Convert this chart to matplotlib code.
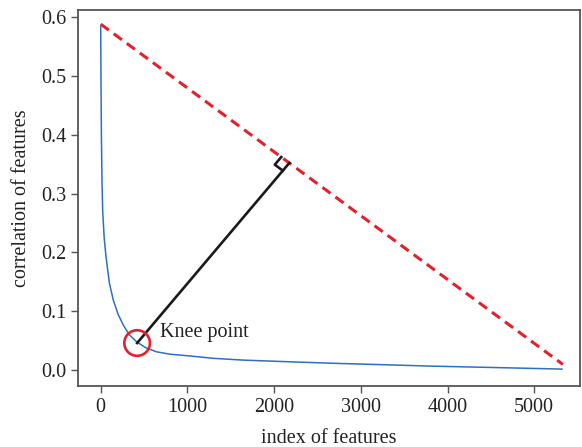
import numpy as np
import matplotlib.pyplot as plt
from matplotlib.lines import Line2D
from matplotlib.transforms import IdentityTransform

# correlation of features sorted
feat_idx = [0, 3, 8, 15, 23, 40, 61, 100, 145, 200, 261, 330, 415, 520, 646,
            800, 1030, 1300, 1641, 2200, 2722, 3300, 3798, 4500, 5320]
feat_corr = [0.584, 0.50, 0.40, 0.32, 0.27, 0.225, 0.193, 0.148, 0.119, 0.095,
             0.0765, 0.060, 0.048, 0.038, 0.031, 0.027, 0.024, 0.020, 0.017,
             0.014, 0.0114, 0.009, 0.0068, 0.0045, 0.0017]

# chord between first and last point
chord_x = [0, 5330]
chord_y = [0.588, 0.0097]

knee_x = 420
knee_y = 0.046
foot_x = 2175

plt.rcParams['font.family'] = ['Liberation Serif', 'DejaVu Serif']
plt.rcParams['font.size'] = 14.5

fig = plt.figure(figsize=(5.82, 4.47), dpi=100)
ax = fig.add_axes([0.134, 0.1365, 0.8626, 0.8411])

ax.plot(feat_idx, feat_corr, color='#2f6ec4', lw=1.1)
ax.plot(chord_x, chord_y, color='#e3202c', lw=2.2, dashes=(3.3, 2.0))

slope = (chord_y[1] - chord_y[0]) / (chord_x[1] - chord_x[0])
foot_y = chord_y[0] + slope * (foot_x - chord_x[0])
ax.plot([knee_x, foot_x], [knee_y, foot_y], color='#1a1a1a', lw=1.9)

ax.scatter([knee_x], [knee_y], s=340, facecolors='none', edgecolors='#e3202c',
           linewidths=1.9, zorder=5)
ax.text(knee_x + 260, knee_y + 0.018, 'Knee point', va='center', ha='left',
        color='#222222')

ax.set_xlim(-262, 5528)
ax.set_ylim(-0.027, 0.612)
ax.set_xticks([0, 1000, 2000, 3000, 4000, 5000])
ax.set_yticks([0.0, 0.1, 0.2, 0.3, 0.4, 0.5, 0.6])
ax.set_yticklabels(['0.0', '0.1', '0.2', '0.3', '0.4', '0.5', '0.6'])
ax.set_xlabel('index of features', labelpad=9, color='#222222')
ax.set_ylabel('correlation of features', labelpad=7, color='#222222')
ax.tick_params(direction='out', length=5, width=1, color='#555555',
               labelcolor='#222222')
for sp in ax.spines.values():
    sp.set_color('#555555')
    sp.set_linewidth(1.3)

# right angle marker at the foot, in pixel space
fig.canvas.draw()
p_foot = ax.transData.transform((foot_x, foot_y))
p_knee = ax.transData.transform((knee_x, knee_y))
p_start = ax.transData.transform((chord_x[0], chord_y[0]))
u = (p_knee - p_foot) / np.linalg.norm(p_knee - p_foot)
v = (p_start - p_foot) / np.linalg.norm(p_start - p_foot)
sz = 10
pts = np.array([p_foot + v * sz, p_foot + v * sz + u * sz, p_foot + u * sz])
fig.add_artist(Line2D(pts[:, 0], pts[:, 1], transform=IdentityTransform(),
                      color='#1a1a1a', lw=1.9))

fig.savefig('out.png', dpi=100)
